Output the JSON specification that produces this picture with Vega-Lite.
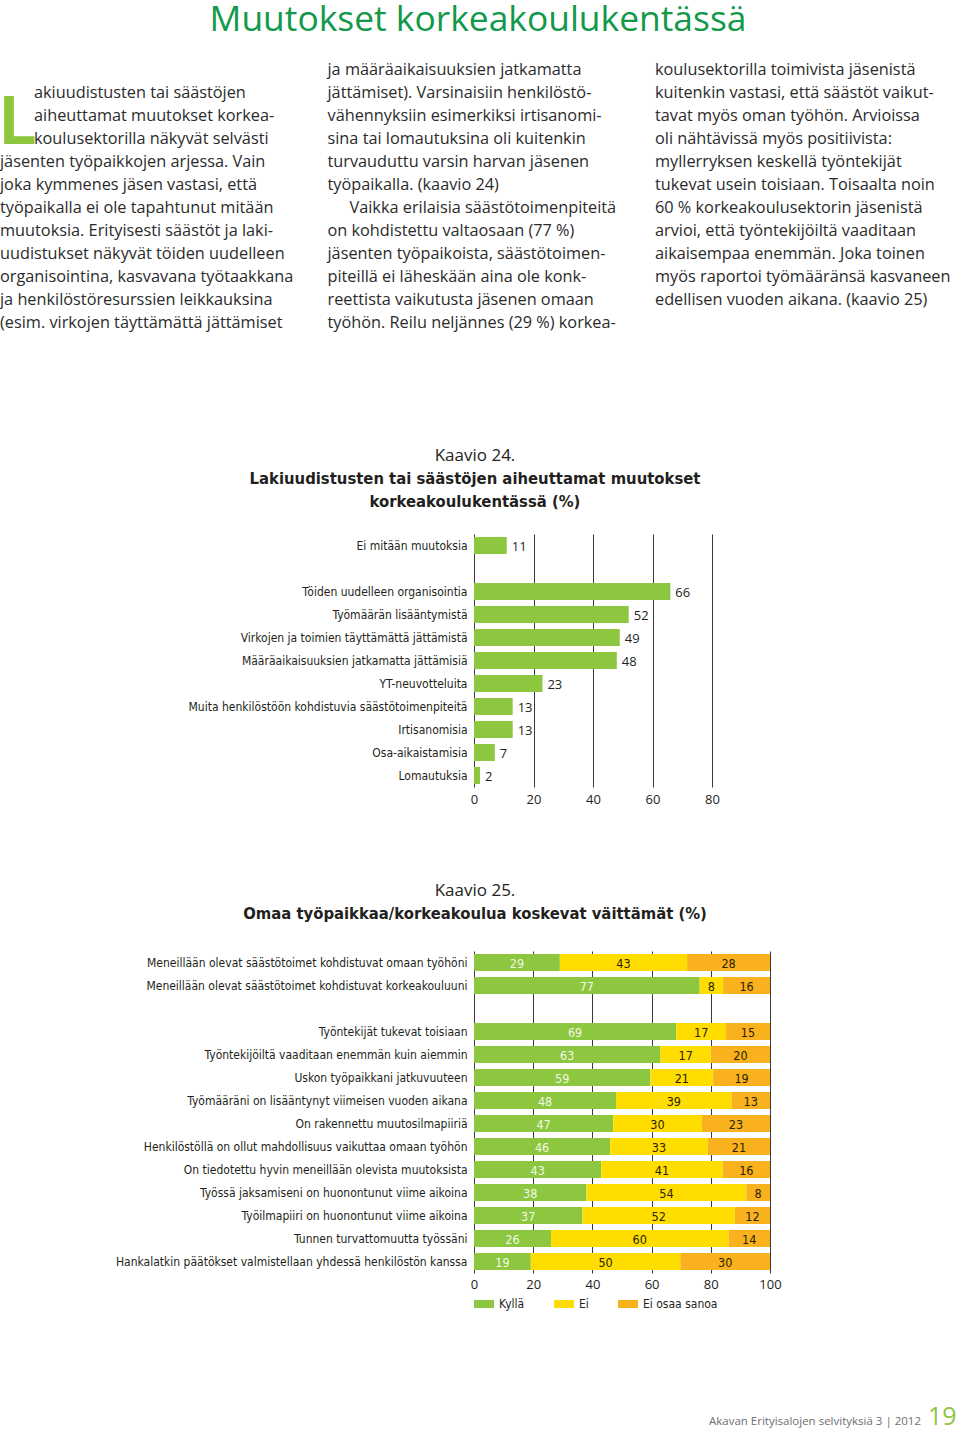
{
  "$schema": "https://vega.github.io/schema/vega-lite/v6.json",
  "padding": {"top": 3, "left": 0, "right": 0, "bottom": 0},
  "background": "white",
  "config": {"view": {"stroke": null}, "font": "Open Sans"},
  "title": {"text": "Muutokset korkeakoulukentässä", "fontSize": 35.4, "font": "Open Sans", "fontWeight": "normal", "color": "#12994a", "anchor": "middle", "offset": 24, "dx": -2},
  "spacing": 21,
  "resolve": {"scale": {"x": "independent", "y": "independent", "color": "independent"}},
  "vconcat": [
    {
      "width": 486,
      "height": 360.4,
      "encoding": {
        "x": {"field": "col", "type": "ordinal", "scale": {"type": "point", "domain": [1, 2, 3], "range": [-474, 181], "padding": 0}, "axis": null},
        "y": {"field": "line", "type": "quantitative", "scale": {"domain": [0.5, 16.17], "reverse": true, "nice": false, "zero": false}, "axis": null},
        "text": {"field": "t"}
      },
      "layer": [
        {
          "data": {"values": [
            {"col": 1, "line": 5, "t": "jäsenten työpaikkojen arjessa. Vain"},
            {"col": 1, "line": 6, "t": "joka kymmenes jäsen vastasi, että"},
            {"col": 1, "line": 7, "t": "työpaikalla ei ole tapahtunut mitään"},
            {"col": 1, "line": 8, "t": "muutoksia. Erityisesti säästöt ja laki-"},
            {"col": 1, "line": 9, "t": "uudistukset näkyvät töiden uudelleen"},
            {"col": 1, "line": 10, "t": "organisointina, kasvavana työtaakkana"},
            {"col": 1, "line": 11, "t": "ja henkilöstöresurssien leikkauksina"},
            {"col": 1, "line": 12, "t": "(esim. virkojen täyttämättä jättämiset"},
            {"col": 2, "line": 1, "t": "ja määräaikaisuuksien jatkamatta"},
            {"col": 2, "line": 2, "t": "jättämiset). Varsinaisiin henkilöstö-"},
            {"col": 2, "line": 3, "t": "vähennyksiin esimerkiksi irtisanomi-"},
            {"col": 2, "line": 4, "t": "sina tai lomautuksina oli kuitenkin"},
            {"col": 2, "line": 5, "t": "turvauduttu varsin harvan jäsenen"},
            {"col": 2, "line": 6, "t": "työpaikalla. (kaavio 24)"},
            {"col": 2, "line": 8, "t": "on kohdistettu valtaosaan (77 %)"},
            {"col": 2, "line": 9, "t": "jäsenten työpaikoista, säästötoimen-"},
            {"col": 2, "line": 10, "t": "piteillä ei läheskään aina ole konk-"},
            {"col": 2, "line": 11, "t": "reettista vaikutusta jäsenen omaan"},
            {"col": 2, "line": 12, "t": "työhön. Reilu neljännes (29 %) korkea-"},
            {"col": 3, "line": 1, "t": "koulusektorilla toimivista jäsenistä"},
            {"col": 3, "line": 2, "t": "kuitenkin vastasi, että säästöt vaikut-"},
            {"col": 3, "line": 3, "t": "tavat myös oman työhön. Arvioissa"},
            {"col": 3, "line": 4, "t": "oli nähtävissä myös positiivista:"},
            {"col": 3, "line": 5, "t": "myllerryksen keskellä työntekijät"},
            {"col": 3, "line": 6, "t": "tukevat usein toisiaan. Toisaalta noin"},
            {"col": 3, "line": 7, "t": "60 % korkeakoulusektorin jäsenistä"},
            {"col": 3, "line": 8, "t": "arvioi, että työntekijöiltä vaaditaan"},
            {"col": 3, "line": 9, "t": "aikaisempaa enemmän. Joka toinen"},
            {"col": 3, "line": 10, "t": "myös raportoi työmääränsä kasvaneen"},
            {"col": 3, "line": 11, "t": "edellisen vuoden aikana. (kaavio 25)"}
          ]},
          "mark": {"type": "text", "align": "left", "baseline": "alphabetic", "fontSize": 16.3, "font": "Open Sans", "color": "#2b2b2b"}
        },
        {
          "data": {"values": [
            {"col": 1, "line": 2, "t": "akiuudistusten tai säästöjen"},
            {"col": 1, "line": 3, "t": "aiheuttamat muutokset korkea-"},
            {"col": 1, "line": 4, "t": "koulusektorilla näkyvät selvästi"}
          ]},
          "mark": {"type": "text", "align": "left", "baseline": "alphabetic", "fontSize": 16.3, "font": "Open Sans", "color": "#2b2b2b", "dx": 34}
        },
        {
          "data": {"values": [
            {"col": 2, "line": 7, "t": "Vaikka erilaisia säästötoimenpiteitä"}
          ]},
          "mark": {"type": "text", "align": "left", "baseline": "alphabetic", "fontSize": 16.3, "font": "Open Sans", "color": "#2b2b2b", "dx": 22}
        },
        {
          "data": {"values": [{"col": 1, "line": 4, "t": "L"}]},
          "mark": {"type": "text", "align": "left", "baseline": "alphabetic", "fontSize": 66, "fontWeight": "bold", "font": "Roboto", "color": "#8dc63f"}
        }
      ]
    },
    {
      "width": 238,
      "height": 253,
      "title": {
        "text": "Kaavio 24.",
        "subtitle": ["Lakiuudistusten tai säästöjen aiheuttamat muutokset", "korkeakoulukentässä (%)"],
        "anchor": "start", "align": "center", "frame": "group", "dx": 1,
        "font": "Open Sans", "fontSize": 17, "fontWeight": "normal", "color": "#231f20",
        "subtitleFont": "Liberation Sans Narrow, DejaVu Sans Condensed, sans-serif", "subtitleFontSize": 16.5, "subtitleFontWeight": "bold", "subtitleColor": "#231f20", "subtitleLineHeight": 23, "subtitlePadding": 6,
        "offset": 23
      },
      "data": {"values": [
        {"cat": "Ei mitään muutoksia", "v": 11},
        {"cat": "Töiden uudelleen organisointia", "v": 66},
        {"cat": "Työmäärän lisääntymistä", "v": 52},
        {"cat": "Virkojen ja toimien täyttämättä jättämistä", "v": 49},
        {"cat": "Määräaikaisuuksien jatkamatta jättämisiä", "v": 48},
        {"cat": "YT-neuvotteluita", "v": 23},
        {"cat": "Muita henkilöstöön kohdistuvia säästötoimenpiteitä", "v": 13},
        {"cat": "Irtisanomisia", "v": 13},
        {"cat": "Osa-aikaistamisia", "v": 7},
        {"cat": "Lomautuksia", "v": 2}
      ]},
      "encoding": {
        "y": {"field": "cat", "type": "nominal",
          "scale": {"domain": ["Ei mitään muutoksia", " ", "Töiden uudelleen organisointia", "Työmäärän lisääntymistä", "Virkojen ja toimien täyttämättä jättämistä", "Määräaikaisuuksien jatkamatta jättämisiä", "YT-neuvotteluita", "Muita henkilöstöön kohdistuvia säästötoimenpiteitä", "Irtisanomisia", "Osa-aikaistamisia", "Lomautuksia"], "paddingInner": 0.26, "paddingOuter": 0.13},
          "axis": {"title": null, "domain": false, "ticks": false, "labelPadding": 7, "labelFontSize": 12, "labelFont": "Liberation Sans Narrow, DejaVu Sans Condensed, sans-serif", "labelColor": "#231f20", "labelLimit": 500}
        },
        "x": {"field": "v", "type": "quantitative",
          "scale": {"domain": [0, 80], "nice": false},
          "axis": {"title": null, "values": [0, 20, 40, 60, 80], "grid": true, "gridColor": "#3a3a3a", "gridWidth": 1, "domain": false, "ticks": false, "labelPadding": 6, "labelFontSize": 13, "labelFont": "Open Sans", "labelColor": "#231f20", "labelFlush": false, "minExtent": 72.5, "maxExtent": 72.5}
        }
      },
      "layer": [
        {"mark": {"type": "bar", "color": "#8dc63f"}},
        {"mark": {"type": "text", "align": "left", "dx": 5, "dy": 1, "fontSize": 13, "font": "Open Sans", "color": "#231f20"}, "encoding": {"text": {"field": "v", "type": "quantitative"}}}
      ]
    },
    {
      "width": 296,
      "height": 322,
      "title": {
        "text": "Kaavio 25.",
        "subtitle": ["Omaa työpaikkaa/korkeakoulua koskevat väittämät (%)"],
        "anchor": "start", "align": "center", "frame": "group", "dx": 1,
        "font": "Open Sans", "fontSize": 17, "fontWeight": "normal", "color": "#231f20",
        "subtitleFont": "Liberation Sans Narrow, DejaVu Sans Condensed, sans-serif", "subtitleFontSize": 16.5, "subtitleFontWeight": "bold", "subtitleColor": "#231f20", "subtitleLineHeight": 23, "subtitlePadding": 6,
        "offset": 28
      },
      "data": {"values": [
        {"cat": "Meneillään olevat säästötoimet kohdistuvat omaan työhöni", "resp": "Kyllä", "k": 1, "v": 29},
        {"cat": "Meneillään olevat säästötoimet kohdistuvat omaan työhöni", "resp": "Ei", "k": 2, "v": 43},
        {"cat": "Meneillään olevat säästötoimet kohdistuvat omaan työhöni", "resp": "Ei osaa sanoa", "k": 3, "v": 28},
        {"cat": "Meneillään olevat säästötoimet kohdistuvat korkeakouluuni", "resp": "Kyllä", "k": 1, "v": 77},
        {"cat": "Meneillään olevat säästötoimet kohdistuvat korkeakouluuni", "resp": "Ei", "k": 2, "v": 8},
        {"cat": "Meneillään olevat säästötoimet kohdistuvat korkeakouluuni", "resp": "Ei osaa sanoa", "k": 3, "v": 16},
        {"cat": "Työntekijät tukevat toisiaan", "resp": "Kyllä", "k": 1, "v": 69},
        {"cat": "Työntekijät tukevat toisiaan", "resp": "Ei", "k": 2, "v": 17},
        {"cat": "Työntekijät tukevat toisiaan", "resp": "Ei osaa sanoa", "k": 3, "v": 15},
        {"cat": "Työntekijöiltä vaaditaan enemmän kuin aiemmin", "resp": "Kyllä", "k": 1, "v": 63},
        {"cat": "Työntekijöiltä vaaditaan enemmän kuin aiemmin", "resp": "Ei", "k": 2, "v": 17},
        {"cat": "Työntekijöiltä vaaditaan enemmän kuin aiemmin", "resp": "Ei osaa sanoa", "k": 3, "v": 20},
        {"cat": "Uskon työpaikkani jatkuvuuteen", "resp": "Kyllä", "k": 1, "v": 59},
        {"cat": "Uskon työpaikkani jatkuvuuteen", "resp": "Ei", "k": 2, "v": 21},
        {"cat": "Uskon työpaikkani jatkuvuuteen", "resp": "Ei osaa sanoa", "k": 3, "v": 19},
        {"cat": "Työmääräni on lisääntynyt viimeisen vuoden aikana", "resp": "Kyllä", "k": 1, "v": 48},
        {"cat": "Työmääräni on lisääntynyt viimeisen vuoden aikana", "resp": "Ei", "k": 2, "v": 39},
        {"cat": "Työmääräni on lisääntynyt viimeisen vuoden aikana", "resp": "Ei osaa sanoa", "k": 3, "v": 13},
        {"cat": "On rakennettu muutosilmapiiriä", "resp": "Kyllä", "k": 1, "v": 47},
        {"cat": "On rakennettu muutosilmapiiriä", "resp": "Ei", "k": 2, "v": 30},
        {"cat": "On rakennettu muutosilmapiiriä", "resp": "Ei osaa sanoa", "k": 3, "v": 23},
        {"cat": "Henkilöstöllä on ollut mahdollisuus vaikuttaa omaan työhön", "resp": "Kyllä", "k": 1, "v": 46},
        {"cat": "Henkilöstöllä on ollut mahdollisuus vaikuttaa omaan työhön", "resp": "Ei", "k": 2, "v": 33},
        {"cat": "Henkilöstöllä on ollut mahdollisuus vaikuttaa omaan työhön", "resp": "Ei osaa sanoa", "k": 3, "v": 21},
        {"cat": "On tiedotettu hyvin meneillään olevista muutoksista", "resp": "Kyllä", "k": 1, "v": 43},
        {"cat": "On tiedotettu hyvin meneillään olevista muutoksista", "resp": "Ei", "k": 2, "v": 41},
        {"cat": "On tiedotettu hyvin meneillään olevista muutoksista", "resp": "Ei osaa sanoa", "k": 3, "v": 16},
        {"cat": "Työssä jaksamiseni on huonontunut viime aikoina", "resp": "Kyllä", "k": 1, "v": 38},
        {"cat": "Työssä jaksamiseni on huonontunut viime aikoina", "resp": "Ei", "k": 2, "v": 54},
        {"cat": "Työssä jaksamiseni on huonontunut viime aikoina", "resp": "Ei osaa sanoa", "k": 3, "v": 8},
        {"cat": "Työilmapiiri on huonontunut viime aikoina", "resp": "Kyllä", "k": 1, "v": 37},
        {"cat": "Työilmapiiri on huonontunut viime aikoina", "resp": "Ei", "k": 2, "v": 52},
        {"cat": "Työilmapiiri on huonontunut viime aikoina", "resp": "Ei osaa sanoa", "k": 3, "v": 12},
        {"cat": "Tunnen turvattomuutta työssäni", "resp": "Kyllä", "k": 1, "v": 26},
        {"cat": "Tunnen turvattomuutta työssäni", "resp": "Ei", "k": 2, "v": 60},
        {"cat": "Tunnen turvattomuutta työssäni", "resp": "Ei osaa sanoa", "k": 3, "v": 14},
        {"cat": "Hankalatkin päätökset valmistellaan yhdessä henkilöstön kanssa", "resp": "Kyllä", "k": 1, "v": 19},
        {"cat": "Hankalatkin päätökset valmistellaan yhdessä henkilöstön kanssa", "resp": "Ei", "k": 2, "v": 50},
        {"cat": "Hankalatkin päätökset valmistellaan yhdessä henkilöstön kanssa", "resp": "Ei osaa sanoa", "k": 3, "v": 30}
      ]},
      "encoding": {
        "y": {"field": "cat", "type": "nominal",
          "scale": {"domain": ["Meneillään olevat säästötoimet kohdistuvat omaan työhöni", "Meneillään olevat säästötoimet kohdistuvat korkeakouluuni", " ", "Työntekijät tukevat toisiaan", "Työntekijöiltä vaaditaan enemmän kuin aiemmin", "Uskon työpaikkani jatkuvuuteen", "Työmääräni on lisääntynyt viimeisen vuoden aikana", "On rakennettu muutosilmapiiriä", "Henkilöstöllä on ollut mahdollisuus vaikuttaa omaan työhön", "On tiedotettu hyvin meneillään olevista muutoksista", "Työssä jaksamiseni on huonontunut viime aikoina", "Työilmapiiri on huonontunut viime aikoina", "Tunnen turvattomuutta työssäni", "Hankalatkin päätökset valmistellaan yhdessä henkilöstön kanssa"], "paddingInner": 0.26, "paddingOuter": 0.13},
          "axis": {"title": null, "domain": false, "ticks": false, "labelPadding": 7, "labelFontSize": 12, "labelFont": "Liberation Sans Narrow, DejaVu Sans Condensed, sans-serif", "labelColor": "#231f20", "labelLimit": 500}
        }
      },
      "layer": [
        {
          "mark": {"type": "bar"},
          "encoding": {
            "x": {"field": "v", "type": "quantitative", "stack": "normalize",
              "scale": {"domain": [0, 1], "nice": false},
              "axis": {"title": null, "values": [0, 0.2, 0.4, 0.6, 0.8, 1], "labelExpr": "format(datum.value * 100, 'd')", "grid": true, "gridColor": "#3a3a3a", "gridWidth": 1, "domain": false, "ticks": false, "labelPadding": 5, "labelFontSize": 13, "labelFont": "Open Sans", "labelColor": "#231f20", "labelFlush": false}
            },
            "color": {"field": "resp", "type": "nominal",
              "scale": {"domain": ["Kyllä", "Ei", "Ei osaa sanoa"], "range": ["#8dc63f", "#ffdd00", "#f9b21d"]},
              "legend": {"title": null, "orient": "bottom", "direction": "horizontal", "symbolType": "M-1,-0.4H1V0.4H-1Z", "symbolSize": 400, "symbolStrokeWidth": 0, "symbolOpacity": 1, "labelFontSize": 12, "labelFont": "Liberation Sans Narrow, DejaVu Sans Condensed, sans-serif", "labelColor": "#231f20", "columnPadding": 29, "labelOffset": 5, "offset": 3, "padding": 0}
            },
            "order": {"field": "k", "type": "quantitative"}
          }
        },
        {
          "mark": {"type": "text", "fontSize": 12.5, "font": "Liberation Sans Narrow, DejaVu Sans Condensed, sans-serif", "dy": 1},
          "encoding": {
            "x": {"field": "v", "type": "quantitative", "stack": "normalize", "bandPosition": 0.5},
            "detail": {"field": "resp", "type": "nominal"},
            "order": {"field": "k", "type": "quantitative"},
            "text": {"field": "v", "type": "quantitative"},
            "color": {"condition": {"test": "datum.resp === 'Kyllä'", "value": "#f2f8e4"}, "value": "#2b2200"}
          }
        }
      ]
    },
    {
      "width": 486,
      "height": 188,
      "encoding": {
        "x": {"field": "part", "type": "nominal", "scale": {"type": "point", "domain": ["a", "b"], "range": [447, 454], "padding": 0}, "axis": null},
        "text": {"field": "t"}
      },
      "layer": [
        {
          "data": {"values": [{"part": "a", "t": "Akavan Erityisalojen selvityksiä 3 | 2012"}]},
          "mark": {"type": "text", "align": "right", "baseline": "alphabetic", "fontSize": 11.5, "font": "Open Sans", "color": "#6d6e71"}
        },
        {
          "data": {"values": [{"part": "b", "t": "19"}]},
          "mark": {"type": "text", "align": "left", "baseline": "alphabetic", "fontSize": 25, "font": "Open Sans", "color": "#8dc63f"}
        }
      ]
    }
  ]
}
